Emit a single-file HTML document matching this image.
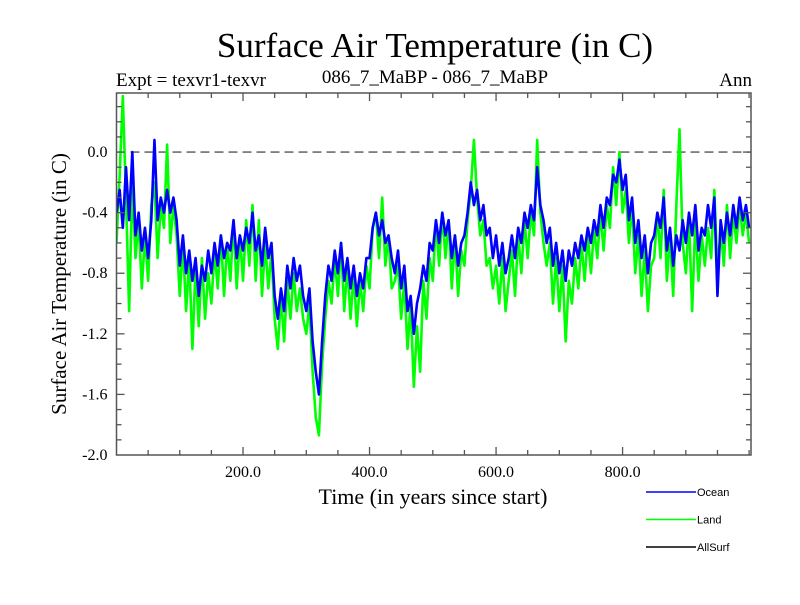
<!DOCTYPE html>
<html><head><meta charset="utf-8"><style>
body{margin:0;background:#fff;}
svg text{font-family:"Liberation Serif",serif;fill:#000;}
</style></head><body>
<svg id="chart" width="800" height="600" xmlns="http://www.w3.org/2000/svg">
<text x="435" y="57" font-size="35" text-anchor="middle">Surface Air Temperature (in C)</text>
<text x="116" y="86" font-size="19">Expt = texvr1-texvr</text>
<text x="435" y="83" font-size="19" text-anchor="middle">086_7_MaBP - 086_7_MaBP</text>
<text x="752" y="86" font-size="19" text-anchor="end">Ann</text>
<text x="433" y="504" font-size="22" text-anchor="middle">Time (in years since start)</text>
<text transform="translate(66,284) rotate(-90)" font-size="21" text-anchor="middle">Surface Air Temperature (in C)</text>
<g id="plot"></g>
<g id="legend"></g>
</svg>
<script>
const years = []; for (let i = 0; i <= 200; i++) years.push(i * 5);
const oceanValues = [
-0.40,-0.25,-0.50,-0.10,-0.45,0.00,-0.55,-0.40,-0.65,-0.50,
-0.70,-0.45,0.08,-0.45,-0.30,-0.40,-0.25,-0.40,-0.30,-0.45,
-0.75,-0.55,-0.80,-0.65,-0.85,-0.70,-0.95,-0.75,-0.85,-0.65,
-0.80,-0.60,-0.75,-0.55,-0.70,-0.60,-0.65,-0.45,-0.70,-0.55,
-0.65,-0.50,-0.60,-0.40,-0.65,-0.55,-0.75,-0.50,-0.70,-0.60,
-0.95,-1.10,-0.90,-1.05,-0.75,-0.90,-0.70,-0.85,-0.75,-0.95,
-1.05,-0.90,-1.25,-1.45,-1.60,-1.25,-0.95,-0.75,-0.85,-0.65,
-0.80,-0.60,-0.85,-0.70,-0.90,-0.75,-0.95,-0.80,-0.90,-0.70,
-0.70,-0.50,-0.40,-0.55,-0.45,-0.60,-0.55,-0.70,-0.80,-0.65,
-0.90,-0.75,-1.05,-0.95,-1.20,-1.00,-0.90,-0.75,-0.85,-0.60,
-0.65,-0.45,-0.60,-0.40,-0.55,-0.45,-0.70,-0.55,-0.75,-0.60,
-0.55,-0.40,-0.20,-0.35,-0.25,-0.45,-0.35,-0.55,-0.50,-0.70,
-0.55,-0.75,-0.60,-0.80,-0.70,-0.55,-0.70,-0.50,-0.60,-0.40,
-0.50,-0.35,-0.45,-0.10,-0.35,-0.45,-0.60,-0.50,-0.75,-0.60,
-0.80,-0.65,-0.85,-0.65,-0.75,-0.60,-0.70,-0.55,-0.65,-0.50,
-0.60,-0.45,-0.55,-0.35,-0.50,-0.30,-0.35,-0.15,-0.20,-0.05,
-0.25,-0.15,-0.45,-0.30,-0.60,-0.45,-0.70,-0.55,-0.80,-0.60,
-0.55,-0.40,-0.50,-0.30,-0.65,-0.50,-0.75,-0.55,-0.65,-0.45,
-0.60,-0.40,-0.55,-0.35,-0.65,-0.50,-0.55,-0.35,-0.50,-0.30,
-0.95,-0.45,-0.60,-0.40,-0.55,-0.35,-0.50,-0.30,-0.45,-0.35,
-0.50];
const landValues = [
-0.60,-0.15,0.37,-0.30,-1.05,-0.20,-0.70,-0.45,-0.90,-0.55,
-0.85,-0.35,-0.20,-0.70,-0.35,-0.50,0.05,-0.60,-0.35,-0.55,
-0.95,-0.60,-1.05,-0.70,-1.30,-0.75,-1.15,-0.70,-1.10,-0.80,
-1.00,-0.65,-0.90,-0.55,-0.95,-0.60,-0.85,-0.45,-0.90,-0.55,
-0.85,-0.45,-0.75,-0.35,-0.85,-0.45,-0.95,-0.60,-0.90,-0.65,
-1.10,-1.30,-0.95,-1.25,-0.85,-1.10,-0.80,-1.05,-0.90,-1.10,
-1.20,-1.00,-1.45,-1.75,-1.87,-1.40,-1.10,-0.85,-1.00,-0.70,
-0.95,-0.60,-1.05,-0.75,-1.10,-0.80,-1.15,-0.85,-1.05,-0.75,
-0.90,-0.50,-0.40,-0.70,-0.30,-0.75,-0.55,-0.90,-0.85,-0.75,
-1.10,-0.85,-1.30,-1.00,-1.55,-1.15,-1.45,-0.85,-1.10,-0.70,
-0.85,-0.45,-0.75,-0.40,-0.70,-0.45,-0.90,-0.55,-0.95,-0.65,
-0.75,-0.45,-0.25,0.08,-0.30,-0.55,-0.45,-0.75,-0.70,-0.90,
-0.75,-1.00,-0.70,-1.05,-0.85,-0.65,-0.95,-0.55,-0.80,-0.45,
-0.70,-0.40,-0.55,0.08,-0.40,-0.60,-0.75,-0.60,-1.00,-0.70,
-1.05,-0.75,-1.25,-0.85,-1.00,-0.70,-0.90,-0.60,-0.85,-0.55,
-0.80,-0.50,-0.70,-0.40,-0.65,-0.35,-0.50,-0.10,-0.35,0.00,
-0.40,-0.25,-0.60,-0.35,-0.80,-0.55,-0.95,-0.65,-1.05,-0.75,
-0.70,-0.40,-0.70,-0.25,-0.85,-0.55,-0.95,-0.35,0.15,-0.60,
-0.80,-0.45,-1.05,-0.45,-0.85,-0.55,-0.75,-0.50,-0.70,-0.25,
-0.80,-0.50,-0.75,-0.35,-0.70,-0.40,-0.60,-0.35,-0.55,-0.40,
-0.60];
const xTickValues = [200, 400, 600, 800];
const xTickLabels = ["200.0", "400.0", "600.0", "800.0"];
const yTickValues = [0.0, -0.4, -0.8, -1.2, -1.6, -2.0];
const yTickLabels = ["0.0", "-0.4", "-0.8", "-1.2", "-1.6", "-2.0"];
const legendNames = ["Ocean", "Land", "AllSurf"];
const legendColors = ["#0000ff", "#00ff00", "#000000"];

const L = 116.5, R = 751, T = 93, B = 455;
const xMin = 0, xMax = 1003, yMin = -2.0, yMax = 0.39;
const xs = v => L + (v - xMin) / (xMax - xMin) * (R - L);
const ys = v => B - (v - yMin) / (yMax - yMin) * (B - T);
const NS = "http://www.w3.org/2000/svg";
const plot = document.getElementById('plot');
function mk(tag, attrs, parent) {
  const e = document.createElementNS(NS, tag);
  for (const k in attrs) e.setAttribute(k, attrs[k]);
  parent.appendChild(e); return e;
}
const defs = mk('defs', {}, plot);
const cp = mk('clipPath', {id: 'clip'}, defs);
mk('rect', {x: L, y: T, width: R - L, height: B - T}, cp);

const zl = mk('line', {x1: L, x2: R, y1: ys(0), y2: ys(0), stroke: '#555', 'stroke-width': 1.3, 'stroke-dasharray': '9,5'}, plot);



function series(vals, color, name) {
  const d = vals.map((v, i) => (i ? 'L' : 'M') + xs(years[i]).toFixed(2) + ',' + ys(v).toFixed(2)).join('');
  const p = mk('path', {d: d, fill: 'none', stroke: color, 'stroke-width': 2.6, 'stroke-linejoin': 'round', 'clip-path': 'url(#clip)'}, plot);
  
  
}
series(landValues, '#00ff00', 'land-series-line');
series(oceanValues, '#0000ff', 'ocean-series-line');

const fr = mk('rect', {x: L, y: T, width: R - L, height: B - T, fill: 'none', stroke: '#555', 'stroke-width': 1.5}, plot);



for (let v = 50; v < xMax; v += 50) {
  const major = xTickValues.includes(v);
  const len = major ? 8 : 5;
  mk('line', {x1: xs(v), x2: xs(v), y1: B, y2: B - len, stroke: '#555', 'stroke-width': 1.3}, plot);
  mk('line', {x1: xs(v), x2: xs(v), y1: T, y2: T + len, stroke: '#555', 'stroke-width': 1.3}, plot);
}
for (let k = -19; k <= 3; k++) {
  const v = k / 10;
  const major = (k % 4 === 0);
  const len = major ? 8 : 5;
  mk('line', {x1: L, x2: L + len, y1: ys(v), y2: ys(v), stroke: '#555', 'stroke-width': 1.3}, plot);
  mk('line', {x1: R, x2: R - len, y1: ys(v), y2: ys(v), stroke: '#555', 'stroke-width': 1.3}, plot);
}
xTickValues.forEach((v, i) => {
  const t = mk('text', {x: xs(v), y: B + 22, 'font-size': 16, 'text-anchor': 'middle'}, plot);
  t.textContent = xTickLabels[i];
  
  
});
yTickValues.forEach((v, i) => {
  const t = mk('text', {x: L - 9, y: ys(v) + 5, 'font-size': 16, 'text-anchor': 'end'}, plot);
  t.textContent = yTickLabels[i];
  
  
});
const lg = document.getElementById('legend');
legendNames.forEach((n, i) => {
  const y = 492 + i * 27.5;
  const g = mk('g', {}, lg);
  
  
  mk('line', {x1: 646, x2: 696, y1: y, y2: y, stroke: legendColors[i], 'stroke-width': 1.5}, g);
  const t = mk('text', {x: 697, y: y + 4, 'font-size': 11}, g);
  t.setAttribute('style', 'font-family:"Liberation Sans",sans-serif');
  t.textContent = n;
});
</script>
</body></html>
